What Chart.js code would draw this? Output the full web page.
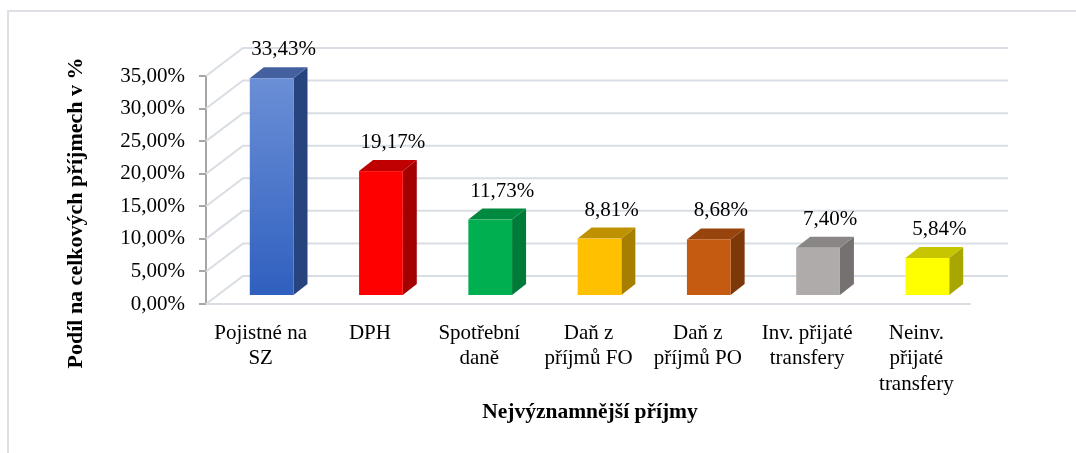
<!DOCTYPE html>
<html lang="cs">
<head>
<meta charset="UTF-8">
<title>Nejvýznamnější příjmy</title>
<style>
  html, body { margin: 0; padding: 0; background: #fff; }
  #wrap { width: 1076px; height: 453px; }
</style>
</head>
<body>
<div id="wrap"><canvas id="graf" width="1076" height="453"></canvas></div>
<script src="https://cdn.jsdelivr.net/npm/chart.js"></script>
<script>
// data
const kategorie = [
  ['Pojistné na', 'SZ'],
  ['DPH'],
  ['Spotřební', 'daně'],
  ['Daň z', 'příjmů FO'],
  ['Daň z', 'příjmů PO'],
  ['Inv. přijaté', 'transfery'],
  ['Neinv.', 'přijaté', 'transfery']
];
const podily = [33.43, 19.17, 11.73, 8.81, 8.68, 7.40, 5.84];
const yMin = 0, yMax = 35, yKrok = 5;

// barvy stěn sloupců: čelo, bok, vršek
const barvyCelo = [null, '#ff0000', '#00b050', '#ffc000', '#c55a11', '#afabab', '#ffff00'];
const barvyBok  = ['#27447f', '#a30000', '#007a37', '#a67e00', '#7d380a', '#767171', '#a8a600'];
const barvyVrch = ['#45609e', '#c00000', '#008a40', '#bf9100', '#97440d', '#8a8686', '#c7c400'];

const fmt = (v) => v.toFixed(2).replace('.', ',') + '%';

Chart.defaults.font.family = '"Liberation Serif", "Times New Roman", serif';
Chart.defaults.color = '#000';

// hloubka 3D prostoru a posun sloupců
const HL = { x: 37, y: -28 };
const SL_POSUN = { x: 11, y: -8 };
const SL_HL = { x: 14, y: -11 };

const prostor3d = {
  id: 'prostor3d',
  beforeDraw(chart) {
    const ctx = chart.ctx;
    ctx.save();
    ctx.fillStyle = '#fff';
    ctx.fillRect(0, 0, chart.width, chart.height);
    ctx.strokeStyle = '#dde1e7';
    ctx.lineWidth = 2;
    ctx.strokeRect(8, 11, chart.width + 20, chart.height + 20);
    ctx.restore();
  },
  beforeDatasetsDraw(chart) {
    const ctx = chart.ctx;
    const { left, right, bottom } = chart.chartArea;
    const ys = chart.scales.y;
    ctx.save();
    ctx.strokeStyle = '#d9dde4';
    ctx.lineWidth = 2;
    ctx.beginPath();
    for (let v = yMin; v <= yMax; v += yKrok) {
      const y = ys.getPixelForValue(v);
      ctx.moveTo(left, y);
      ctx.lineTo(left + HL.x, y + HL.y);
      ctx.lineTo(right + HL.x, y + HL.y);
    }
    ctx.moveTo(left, bottom);
    ctx.lineTo(right, bottom);
    ctx.stroke();
    ctx.restore();
  },
  afterDatasetsDraw(chart) {
    const ctx = chart.ctx;
    const meta = chart.getDatasetMeta(0);
    ctx.save();
    meta.data.forEach((el, i) => {
      const p = el.getProps(['x', 'y', 'base', 'width'], true);
      const x0 = p.x - p.width / 2 + SL_POSUN.x;
      const x1 = p.x + p.width / 2 + SL_POSUN.x;
      const yt = p.y + SL_POSUN.y;
      const yb = p.base + SL_POSUN.y;
      // bok
      ctx.fillStyle = barvyBok[i];
      ctx.beginPath();
      ctx.moveTo(x1, yt);
      ctx.lineTo(x1 + SL_HL.x, yt + SL_HL.y);
      ctx.lineTo(x1 + SL_HL.x, yb + SL_HL.y);
      ctx.lineTo(x1, yb);
      ctx.closePath();
      ctx.fill();
      // vršek
      ctx.fillStyle = barvyVrch[i];
      ctx.beginPath();
      ctx.moveTo(x0, yt);
      ctx.lineTo(x0 + SL_HL.x, yt + SL_HL.y);
      ctx.lineTo(x1 + SL_HL.x, yt + SL_HL.y);
      ctx.lineTo(x1, yt);
      ctx.closePath();
      ctx.fill();
      // čelo
      if (barvyCelo[i]) {
        ctx.fillStyle = barvyCelo[i];
      } else {
        const g = ctx.createLinearGradient(0, yt, 0, yb);
        g.addColorStop(0, '#6b8fd6');
        g.addColorStop(1, '#2f60bf');
        ctx.fillStyle = g;
      }
      ctx.fillRect(x0, yt, x1 - x0, yb - yt);
      // popisek hodnoty
      ctx.fillStyle = '#000';
      ctx.font = '21px "Liberation Serif", serif';
      ctx.textAlign = 'center';
      ctx.textBaseline = 'alphabetic';
      ctx.fillText(fmt(podily[i]), p.x + SL_POSUN.x + 12, yt + SL_HL.y - 12);
    });

    // názvy os
    ctx.font = 'bold 22px "Liberation Serif", serif';
    ctx.textAlign = 'center';
    ctx.textBaseline = 'middle';
    ctx.save();
    ctx.translate(76, 213);
    ctx.rotate(-Math.PI / 2);
    ctx.fillText('Podíl na celkových příjmech v %', 0, 0);
    ctx.restore();
    ctx.font = 'bold 21.5px "Liberation Serif", serif';
    ctx.textBaseline = 'alphabetic';
    ctx.fillText('Nejvýznamnější příjmy', 590, 418);
    ctx.restore();
  }
};

new Chart(document.getElementById('graf'), {
  type: 'bar',
  data: {
    labels: kategorie,
    datasets: [{
      data: podily,
      backgroundColor: 'rgba(0,0,0,0)',
      borderWidth: 0,
      barPercentage: 0.4,
      categoryPercentage: 1.0
    }]
  },
  options: {
    responsive: false,
    animation: false,
    layout: { padding: { left: 0, right: 105, top: 76, bottom: 0 } },
    plugins: {
      legend: { display: false },
      tooltip: { enabled: false }
    },
    scales: {
      x: {
        grid: { display: false },
        border: { display: false },
        ticks: {
          font: { size: 21, lineHeight: 1.2 },
          padding: 9,
          maxRotation: 0,
          autoSkip: false
        },
        afterFit(s) { s.height = 149; }
      },
      y: {
        min: yMin,
        max: yMax,
        grid: { drawOnChartArea: false, color: '#a6a6a6', tickLength: 7, lineWidth: 2 },
        border: { color: '#a6a6a6', width: 2 },
        ticks: {
          stepSize: yKrok,
          font: { size: 21 },
          padding: 14,
          callback: (v) => fmt(v)
        },
        afterFit(s) { s.width = 206; }
      }
    }
  },
  plugins: [prostor3d]
});
</script>
</body>
</html>
